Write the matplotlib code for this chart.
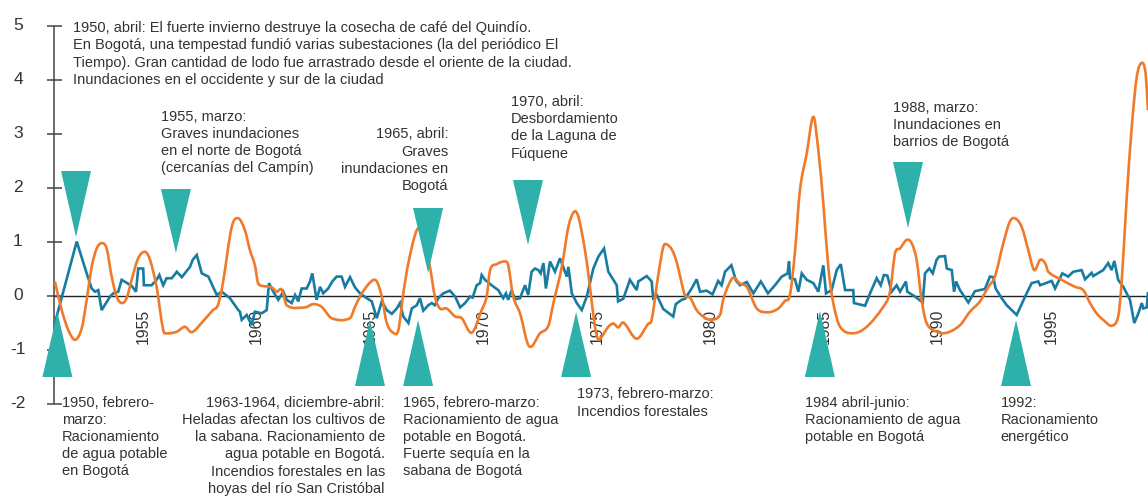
import numpy as np
import matplotlib
matplotlib.use("Agg")
import matplotlib.pyplot as plt
from matplotlib.patches import Polygon, PathPatch
from matplotlib.path import Path

plt.rcParams['font.family'] = ['Liberation Sans', 'DejaVu Sans']

# ---------------- data ----------------
blue_years = 1950 + np.array([
    0.04, 1.00, 1.44, 1.66, 1.81, 1.95, 2.10, 2.47, 2.61, 2.83,
    2.98, 3.42, 3.61, 3.71, 3.93, 3.96, 4.30, 4.52, 4.64, 4.81,
    4.96, 5.19, 5.41, 5.63, 5.99, 6.11, 6.29, 6.51, 6.80, 7.17,
    7.39, 7.75, 8.12, 8.19, 8.27, 8.49, 8.71, 8.85, 9.15, 9.37,
    9.47, 9.66, 9.88, 10.10, 10.25, 10.47, 10.62, 10.76, 10.91, 11.13,
    11.28, 11.38, 11.57, 11.72, 11.86, 12.08, 12.26, 12.45, 12.67, 12.82,
    13.04, 13.26, 13.48, 13.78, 14.00, 14.22, 14.44, 14.66, 14.88, 15.10,
    15.24, 15.39, 15.61, 15.76, 15.98, 16.12, 16.27, 16.49, 16.64, 16.78,
    16.93, 17.15, 17.44, 17.67, 17.89, 18.11, 18.33, 18.44, 18.62, 18.77,
    18.84, 18.99, 19.28, 19.57, 19.79, 19.91, 20.01, 20.16, 20.31, 20.53,
    20.75, 20.89, 21.04, 21.19, 21.34, 21.44, 21.56, 21.67, 21.85, 22.07,
    22.29, 22.51, 22.59, 22.66, 22.81, 23.03, 23.25, 23.47, 23.76, 23.98,
    24.23, 24.42, 24.79, 24.85, 25.08, 25.37, 25.67, 25.74, 26.11, 26.33,
    26.40, 26.55, 26.84, 27.28, 27.39, 27.65, 27.80, 28.09, 28.31, 28.46,
    28.75, 29.01, 29.26, 29.41, 29.56, 29.84, 30.04, 30.22, 30.52, 30.81,
    31.14, 31.45, 31.76, 32.06, 32.32, 32.38, 32.42, 32.64, 32.79, 32.94,
    33.16, 33.45, 33.67, 33.89, 34.01, 34.26, 34.48, 34.66, 34.85, 35.21,
    35.24, 35.73, 35.95, 36.24, 36.42, 36.56, 36.71, 36.90, 37.12, 37.27,
    37.53, 37.59, 37.93, 38.27, 38.37, 38.56, 38.71, 38.88, 38.99, 39.25,
    39.33, 39.55, 39.65, 39.74, 39.91, 40.28, 40.57, 41.01, 41.23, 41.38,
    41.48, 41.75, 41.97, 42.41, 42.78, 43.07, 43.36, 43.44, 43.95, 44.10,
    44.42, 44.68, 44.90, 45.27, 45.42, 45.71, 45.78, 46.22, 46.44, 46.59,
    46.71, 46.88, 47.11, 47.40, 47.59, 47.77, 47.92, 47.99, 48.14, 48.19])
blue_values = np.array([
    -0.51, 1.00, 0.41, 0.13, 0.07, 0.10, -0.27, -0.02, 0.04, 0.07,
    0.29, 0.18, 0.07, 0.50, 0.50, 0.19, 0.19, 0.29, 0.38, 0.19,
    0.32, 0.32, 0.44, 0.34, 0.53, 0.66, 0.75, 0.41, 0.35, 0.01,
    0.07, -0.05, -0.27, -0.30, -0.45, -0.36, -0.55, -0.30, -0.33, -0.27,
    0.23, 0.07, -0.08, 0.07, -0.08, -0.14, 0.01, -0.11, 0.13, 0.13,
    0.26, 0.41, -0.08, 0.16, 0.04, 0.13, 0.26, 0.35, 0.35, 0.16,
    0.34, 0.15, 0.04, -0.05, -0.11, -0.42, -0.11, -0.27, -0.34, -0.24,
    -0.14, -0.39, -0.51, -0.24, -0.18, -0.05, -0.28, -0.18, -0.14, -0.18,
    -0.05, 0.04, 0.09, -0.02, -0.22, -0.14, -0.02, -0.04, 0.19, 0.23,
    0.38, 0.29, 0.19, 0.10, -0.05, 0.04, -0.08, 0.10, -0.07, -0.05,
    0.19, 0.01, 0.44, 0.50, 0.47, 0.41, 0.60, 0.13, 0.63, 0.44,
    0.69, 0.44, 0.35, 0.53, 0.04, -0.14, -0.27, -0.02, 0.50, 0.72,
    0.87, 0.44, 0.19, -0.11, -0.06, 0.29, 0.10, 0.26, 0.36, 0.26,
    -0.08, 0.01, -0.25, -0.39, -0.16, -0.08, -0.06, 0.13, 0.30, 0.07,
    0.09, 0.02, 0.27, 0.19, 0.44, 0.56, 0.28, 0.19, 0.25, 0.04,
    0.26, 0.04, 0.19, 0.35, 0.41, 0.63, 0.32, 0.30, 0.07, 0.41,
    0.29, 0.23, 0.07, 0.56, 0.04, 0.10, 0.47, 0.58, 0.10, 0.10,
    -0.14, -0.19, 0.04, 0.32, 0.19, 0.38, 0.37, 0.07, 0.19, 0.07,
    0.26, 0.07, -0.02, -0.13, 0.41, 0.50, 0.41, 0.66, 0.72, 0.73,
    0.50, 0.47, 0.07, 0.26, 0.10, -0.13, 0.08, 0.12, 0.35, 0.34,
    0.13, -0.05, -0.18, -0.36, -0.02, 0.23, 0.26, 0.19, 0.27, 0.13,
    0.41, 0.35, 0.44, 0.47, 0.30, 0.42, 0.36, 0.47, 0.60, 0.47,
    0.64, 0.29, 0.16, -0.08, -0.51, -0.33, -0.14, -0.24, -0.22, 0.04])

orange_years = 1950 + np.array([
    0.04, 0.34, 0.63, 0.93, 1.22, 1.44, 1.66, 1.88, 2.10, 2.32,
    2.54, 2.76, 2.98, 3.20, 3.42, 3.71, 4.01, 4.23, 4.52, 4.67,
    4.81, 4.89,
    5.41, 5.77, 6.07, 6.56, 7.00, 7.22, 7.44, 7.83, 8.12, 8.41,
    8.63, 8.85, 8.97, 9.07, 9.59, 9.81, 10.03, 10.25, 11.06, 11.42,
    11.79, 12.23, 13.04, 13.26, 13.56, 14.00, 14.22, 14.44, 14.66, 14.95,
    15.17, 15.39, 15.61, 15.98, 16.20, 16.56, 16.78, 17.00, 17.30, 17.67,
    17.96, 18.40, 18.84, 19.06, 19.21, 19.50, 19.87, 20.01, 20.23, 20.53,
    20.93, 21.41, 21.78, 22.00, 22.37, 22.66, 22.91, 23.10, 23.39, 23.61,
    23.83, 23.98, 24.13, 24.42, 24.64, 24.86, 25.08, 25.67, 26.18, 26.33,
    26.62, 26.84, 26.97, 27.22, 27.43, 27.65, 27.80, 28.02, 28.31, 28.60,
    28.94, 29.34, 29.48, 29.71, 29.93, 30.22, 30.52, 30.96, 31.47, 31.91,
    32.20, 32.42, 32.64, 32.86, 33.16, 33.45, 33.67, 33.89, 34.11, 34.33,
    34.63, 35.21, 35.80, 36.53, 36.83, 37.05, 37.27, 37.56, 37.78, 38.00,
    38.22, 38.44, 38.88, 39.33, 39.91, 40.35, 40.79, 41.16, 41.45, 41.82,
    42.11, 42.33, 42.63, 42.92, 43.18, 43.44, 43.66, 43.80, 44.39, 44.98,
    45.34, 45.64, 45.93, 46.30, 46.59, 46.88, 47.03, 47.25, 47.48, 47.70,
    47.92, 48.09, 48.19])
orange_values = np.array([
    0.26, -0.27, -0.64, -0.82, -0.61, -0.08, 0.53, 0.87, 0.97, 0.87,
    0.35, -0.02, -0.14, -0.05, 0.29, 0.69, 0.81, 0.66, 0.16, -0.27,
    -0.64, -0.70,
    -0.67, -0.58, -0.68, -0.48, -0.27, -0.18, 0.23, 1.27, 1.43, 1.21,
    0.84, 0.56, 0.26, 0.19, 0.15, 0.07, 0.11, -0.18, -0.22, -0.16,
    -0.21, -0.42, -0.42, -0.21, 0.04, 0.27, 0.26, -0.02, -0.51, -0.69,
    -0.64, 0.04, 0.60, 1.21, 1.15, 0.53, -0.02, -0.24, -0.24, -0.39,
    -0.42, -0.69, -0.27, -0.02, 0.47, 0.58, 0.63, 0.56, -0.02, -0.33,
    -0.94, -0.70, -0.56, -0.14, 0.53, 1.27, 1.55, 1.46, 0.84, 0.16,
    -0.58, -0.82, -0.76, -0.58, -0.52, -0.59, -0.50, -0.80, -0.52, -0.45,
    0.38, 0.90, 0.95, 0.85, 0.62, 0.23, 0.00, -0.04, -0.27, -0.39,
    -0.45, -0.36, -0.08, 0.19, 0.33, 0.22, 0.16, -0.24, -0.31, -0.24,
    -0.10, 0.01, 0.80, 1.95, 2.63, 3.31, 2.69, 1.71, 0.53, -0.14,
    -0.58, -0.70, -0.58, -0.21, 0.07, 0.78, 0.87, 1.03, 0.97, 0.66,
    -0.08, -0.51, -0.67, -0.69, -0.55, -0.30, -0.11, 0.16, 0.35, 0.97,
    1.37, 1.43, 1.27, 0.84, 0.47, 0.66, 0.60, 0.44, 0.29, 0.16,
    0.10, -0.14, -0.33, -0.48, -0.56, -0.39, 0.23, 1.77, 3.13, 4.05,
    4.31, 4.11, 3.43])

y_ticks = [-2, -1, 0, 1, 2, 3, 4, 5]
year_labels = [1955, 1960, 1965, 1970, 1975, 1980, 1985, 1990, 1995]

# events marked with a downward triangle (above the curves)
down_event_years = [1950.97, 1955.37, 1966.48, 1970.88, 1987.62]
down_event_texts = [
    "1950, abril: El fuerte invierno destruye la cosecha de café del Quindío.\n"
    "En Bogotá, una tempestad fundió varias subestaciones (la del periódico El\n"
    "Tiempo). Gran cantidad de lodo fue arrastrado desde el oriente de la ciudad.\n"
    "Inundaciones en el occidente y sur de la ciudad",
    "1955, marzo:\nGraves inundaciones\nen el norte de Bogotá\n(cercanías del Campín)",
    "1965, abril:\nGraves\ninundaciones en\nBogotá",
    "1970, abril:\nDesbordamiento\nde la Laguna de\nFúquene",
    "1988, marzo:\nInundaciones en\nbarrios de Bogotá",
]
# events marked with an upward triangle (below the curves)
up_event_years = [1950.15, 1963.92, 1966.04, 1973.00, 1983.74, 1992.38]
up_event_texts = [
    "1950, febrero-\nmarzo:\nRacionamiento\nde agua potable\nen Bogotá",
    "1963-1964, diciembre-abril:\nHeladas afectan los cultivos de\nla sabana. Racionamiento de\n"
    "agua potable en Bogotá.\nIncendios forestales en las\nhoyas del río San Cristóbal",
    "1965, febrero-marzo:\nRacionamiento de agua\npotable en Bogotá.\nFuerte sequía en la\nsabana de Bogotá",
    "1973, febrero-marzo:\nIncendios forestales",
    "1984 abril-junio:\nRacionamiento de agua\npotable en Bogotá",
    "1992:\nRacionamiento\nenergético",
]

# ---------------- style / layout ----------------
BLUE = '#177CA2'
ORANGE = '#F07A2A'
TEAL = '#2EB0AB'
TEXT = '#333333'
AXIS = '#444444'

fig = plt.figure(figsize=(11.48, 4.96), dpi=100)
ax = fig.add_axes([0, 0, 1, 1])
PXX = 22.7   # pixels per year
PXY = 54.0   # pixels per unit
x0 = 1950 - 54 / PXX
ax.set_xlim(x0, 1950 + (1148 - 54) / PXX)
ax.set_ylim(-(496 - 295.5) / PXY, 295.5 / PXY)
ax.axis('off')


def px(xp):
    return x0 + xp / PXX


def py(yp):
    return (295.5 - yp) / PXY


def smooth_path(x, y):
    """Cubic Hermite curve through the given points (drawn, not resampled)."""
    x = np.asarray(x, float)
    y = np.asarray(y, float)
    n = len(x)
    m = np.zeros(n)
    m[1:-1] = (y[2:] - y[:-2]) / (x[2:] - x[:-2])
    m[0] = (y[1] - y[0]) / (x[1] - x[0])
    m[-1] = (y[-1] - y[-2]) / (x[-1] - x[-2])
    verts = [(x[0], y[0])]
    codes = [Path.MOVETO]
    for i in range(n - 1):
        h = x[i + 1] - x[i]
        verts += [(x[i] + h / 3, y[i] + m[i] * h / 3),
                  (x[i + 1] - h / 3, y[i + 1] - m[i + 1] * h / 3),
                  (x[i + 1], y[i + 1])]
        codes += [Path.CURVE4] * 3
    return Path(verts, codes)


# axis + zero line
ax.plot([1950, 1950], [-2, 5], color=AXIS, lw=1.1, solid_capstyle='butt', zorder=2)
ax.plot([1950, ax.get_xlim()[1]], [0, 0], color='#222222', lw=1.0, zorder=2)
ax.hlines(y_ticks, 1950 - 7 / PXX, 1950 + 8 / PXX, color=AXIS, lw=1.1, zorder=2)
for t in y_ticks:
    ax.text(px(18), t, f"{t}", ha='center', va='center', fontsize=12.5, color=TEXT)

for yr in year_labels:
    ax.text(yr - 1.08, py(309), str(yr), rotation=90, ha='center', va='top',
            fontsize=11.3, color=TEXT)

# series
ax.plot(blue_years, blue_values, color=BLUE, lw=1.9, solid_joinstyle='miter', zorder=3)
ax.add_patch(PathPatch(smooth_path(orange_years, orange_values), facecolor='none',
                       edgecolor=ORANGE, lw=1.9, joinstyle='round', zorder=4))

# triangles
HALF_W = 15 / PXX
down_levels = [(py(171), py(237)), (py(189), py(253)), (py(208), py(273)),
               (py(180), py(245)), (py(162), py(228))]
for yr, (top, tip) in zip(down_event_years, down_levels):
    ax.add_patch(Polygon([(yr - HALF_W, top), (yr + HALF_W, top), (yr, tip)],
                         closed=True, facecolor=TEAL, edgecolor='none', zorder=5))
up_levels = [(py(377), py(312)), (py(386), py(320)), (py(386), py(320)),
             (py(377), py(312)), (py(377), py(311)), (py(386), py(320))]
for yr, (base, tip) in zip(up_event_years, up_levels):
    ax.add_patch(Polygon([(yr - HALF_W, base), (yr + HALF_W, base), (yr, tip)],
                         closed=True, facecolor=TEAL, edgecolor='none', zorder=5))

# annotations: each line placed on its own baseline
FS = 10.55
STEP = 17.2  # pixels between baselines


def block(txt, xp, yp, ha):
    for i, line in enumerate(txt.split('\n')):
        ax.text(px(xp), py(yp + i * STEP), line, ha=ha, va='baseline',
                fontsize=FS, color=TEXT)


down_text_pos = [(73, 32.3, 'left'), (160.7, 120.7, 'left'),
                 (448.3, 138.3, 'right'), (511, 106, 'left'),
                 (892.7, 111.7, 'left')]
for txt, (x, y, ha) in zip(down_event_texts, down_text_pos):
    block(txt, x, y, ha)
up_text_pos = [(61.7, 406.7, 'left'), (385, 406.7, 'right'),
               (403.3, 406.7, 'left'), (576.7, 398.3, 'left'),
               (805, 406.7, 'left'), (1000.7, 406.7, 'left')]
for txt, (x, y, ha) in zip(up_event_texts, up_text_pos):
    block(txt, x, y, ha)

fig.savefig('out.png', dpi=100)
